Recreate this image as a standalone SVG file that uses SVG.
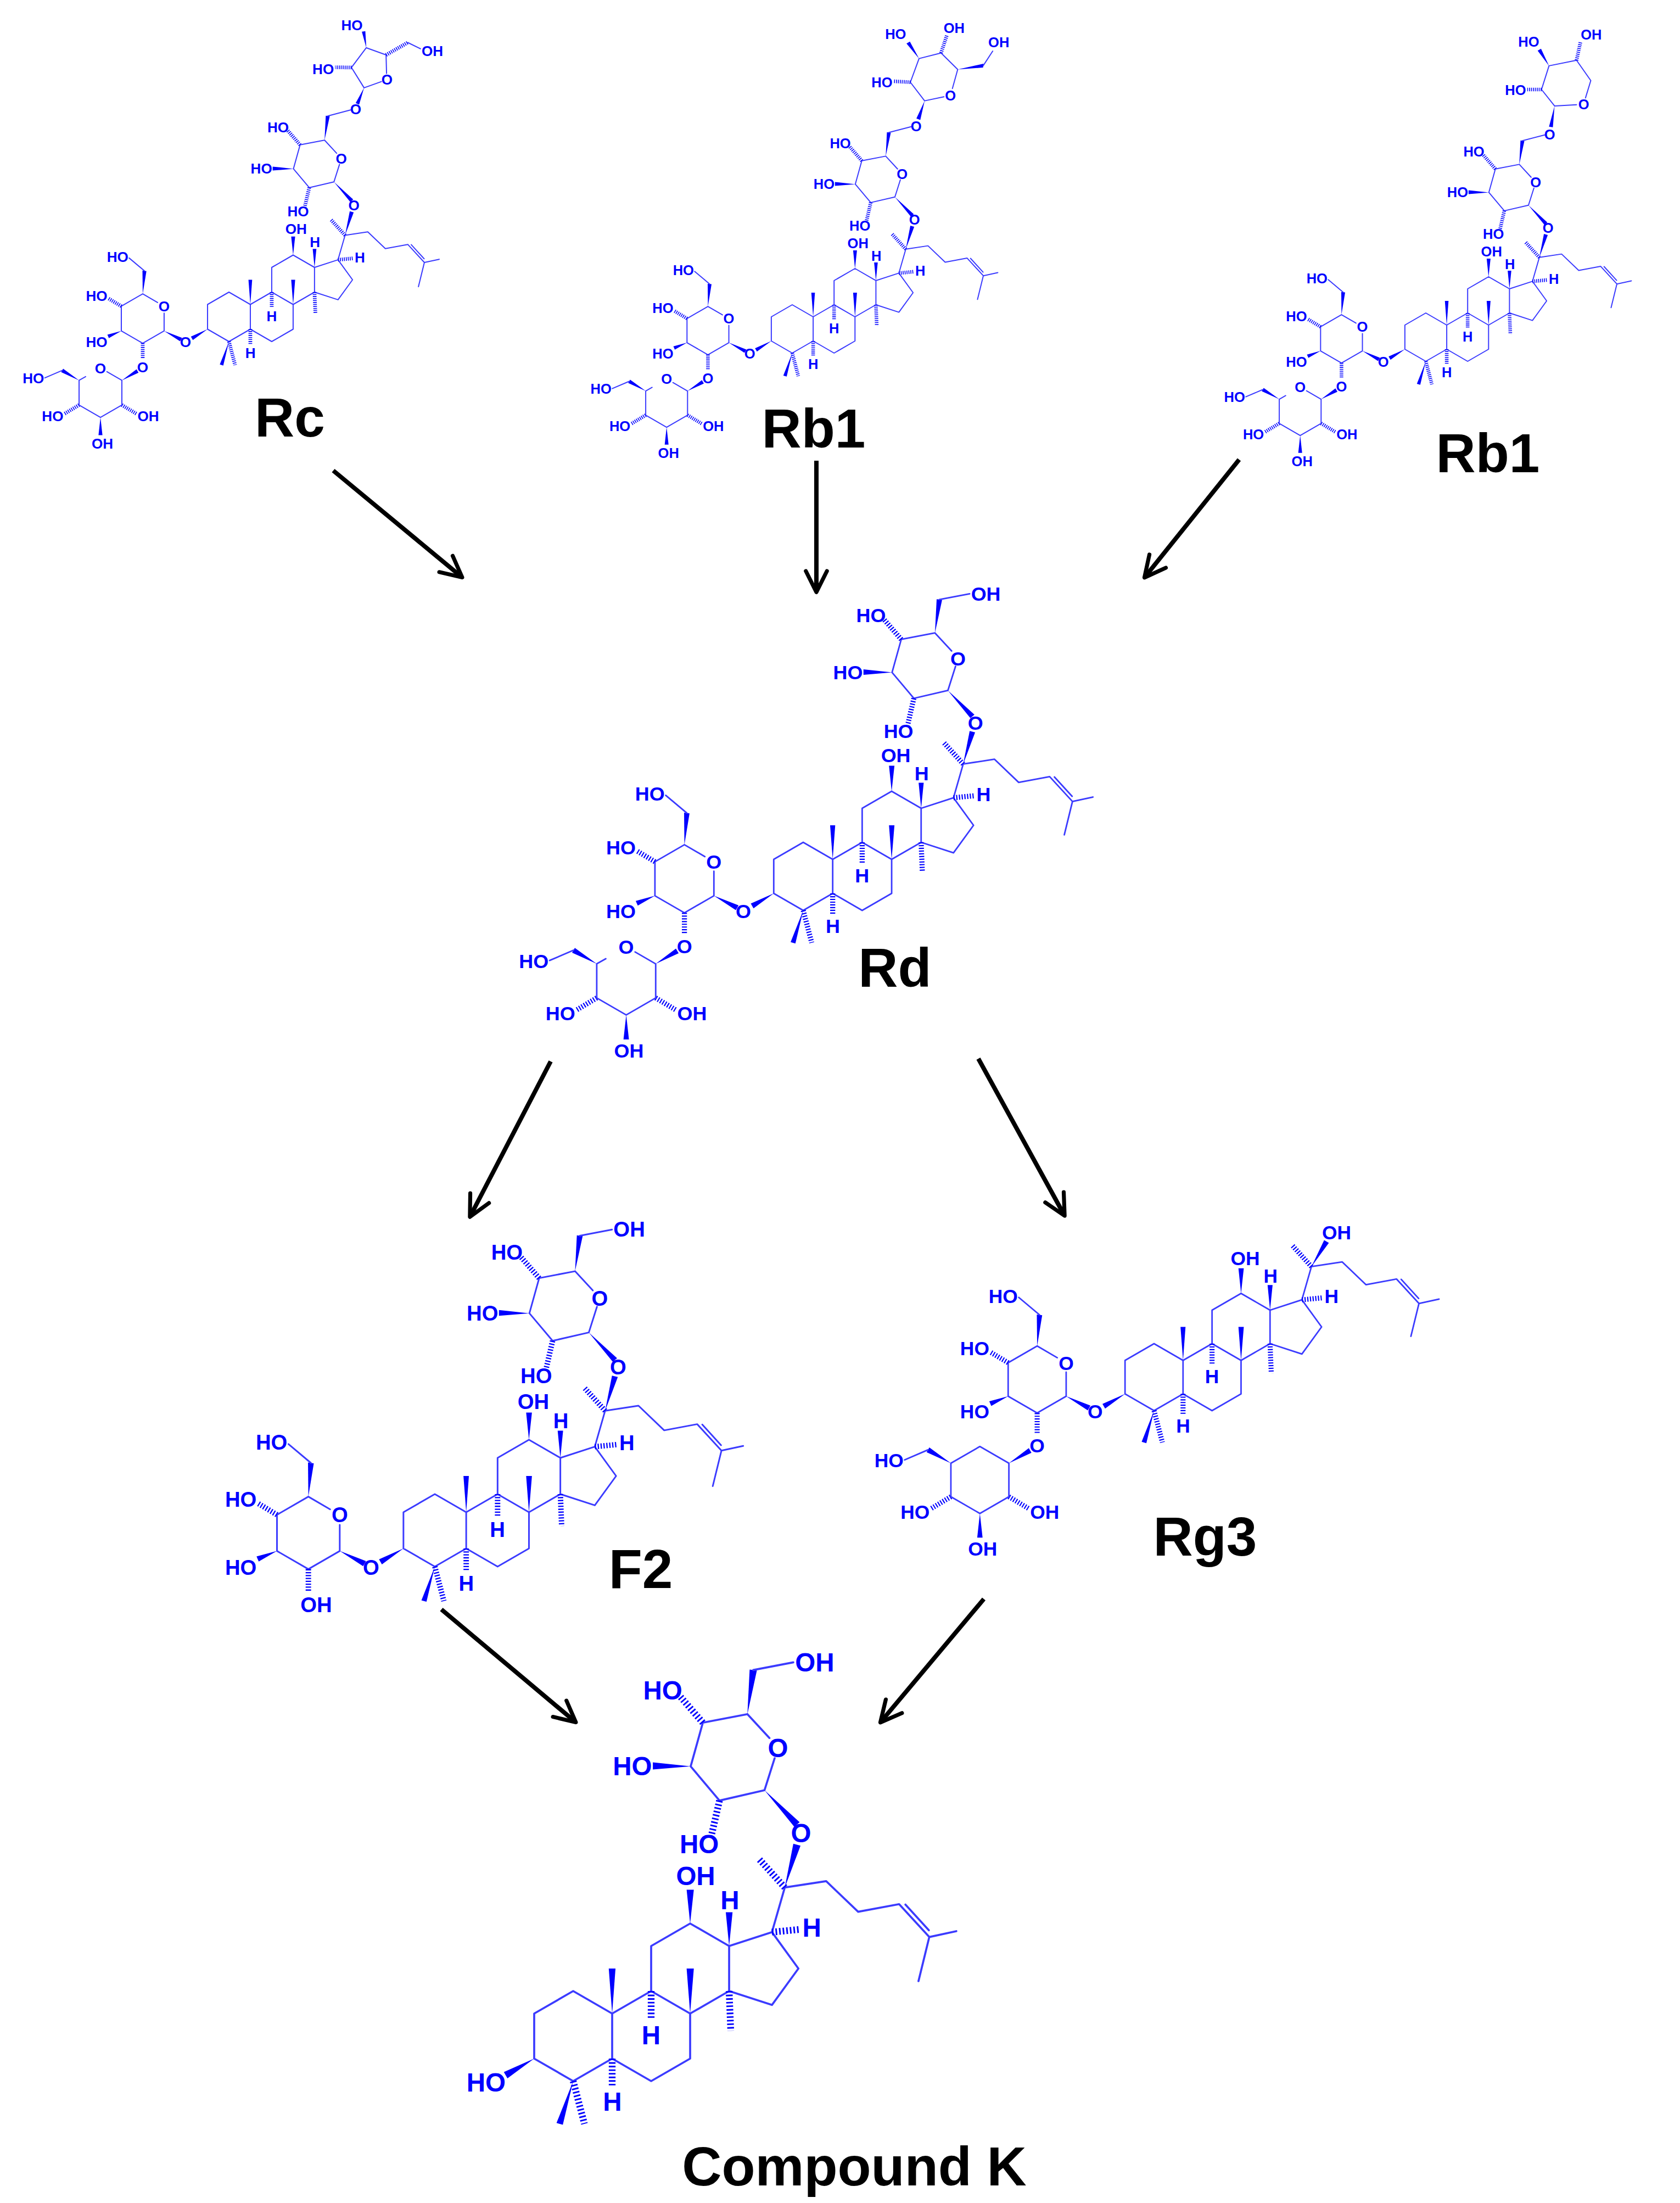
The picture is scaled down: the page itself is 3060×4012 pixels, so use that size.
<svg xmlns="http://www.w3.org/2000/svg" xmlns:xlink="http://www.w3.org/1999/xlink" width="3060" height="4012" viewBox="0 0 3060 4012">
<style>
.b{fill:none;stroke:#3b3bff;stroke-width:4.5;stroke-linecap:round;stroke-linejoin:round}
.w{fill:#0000ff;stroke:none}
.h{fill:none;stroke:#0000ff;stroke-width:15;stroke-dasharray:3.5 4.5}
.t{font-family:'Liberation Sans',Arial,sans-serif;font-weight:bold;font-size:58px;fill:#0000ff;text-anchor:middle}
.e{text-anchor:end}
.s{text-anchor:start}
.n{font-family:'Liberation Sans',Arial,sans-serif;font-weight:bold;font-size:100px;fill:#000;text-anchor:middle}
.a{fill:none;stroke:#000;stroke-width:8;marker-end:url(#ah)}
</style>
<defs>
<marker id="ah" viewBox="0 0 10 10" refX="8.5" refY="5" markerWidth="6" markerHeight="6" orient="auto" markerUnits="strokeWidth">
<path d="M1,1 L9,5 L1,9" fill="none" stroke="#000" stroke-width="1.5" stroke-linecap="round" stroke-linejoin="round"/>
</marker>
<g id="skel">
<path class="b" d="M0,-100 L86.6,-50 L86.6,50 L0,100 L-86.6,50 L-86.6,-50 Z M86.6,-50 L173.2,-100 L259.8,-50 L259.8,50 L173.2,100 L86.6,50 M173.2,-100 L173.2,-200 L259.8,-250 L346.4,-200 L346.4,-100 L259.8,-50 M346.4,-200 L441.5,-230.9 L500.3,-150 L441.5,-69.1 L346.4,-100 M441.5,-230.9 L470,-330 L562,-344 L633,-276 L724,-293 L791,-220 L851,-233 M791,-220 L767,-122 M738,-292 L790,-235"/>
<polygon class="w" points="259.8,-250 252,-325 268,-325"/>
<polygon class="w" points="346.4,-200 339,-275 354,-275"/>
<polygon class="w" points="86.6,-50 79,-150 94,-150"/>
<polygon class="w" points="259.8,-50 252,-150 268,-150"/>
<polygon class="w" points="0,100 -37,193 -23,197"/>
<polygon class="w" points="-86.6,50 -146,94 -154,80"/>
<path class="h" d="M441.5,-230.9 L505,-237 M470,-330 L413,-393 M173.2,-100 L173.2,-38 M346.4,-100 L350,-12 M86.6,50 L86.6,113 M0,100 L25,195"/>
<text class="t" x="272" y="-335">OH</text>
<text class="t" x="348" y="-282">H</text>
<text class="t" x="530" y="-221">H</text>
<text class="t" x="173" y="18">H</text>
<text class="t" x="87" y="166">H</text>
</g>
<g id="c20glc">
<polygon class="w" points="470,-330 489,-427 505,-423"/>
<g transform="translate(357,-620)">
<path class="b" d="M79,-42 L30,-95 L-69,-76 L-96,21 L-32,97 L68,74 L90.5,3"/>
<text class="t" x="98" y="0">O</text>
<polygon class="w" points="30,-95 35,-194 51,-192"/>
<path class="h" d="M-69,-76 L-120,-135 M-32,97 L-50,175"/>
<text class="t" x="-158" y="-127">HO</text>
<polygon class="w" points="-96,21 -180,12 -180,28"/>
<text class="t e" x="-182" y="41">HO</text>
<text class="t" x="-77" y="214">HO</text>
<polygon class="w" points="68,74 146,145 134,155"/>
<text class="t" x="149" y="189">O</text>
</g>
</g>
<g id="c6OH"><g transform="translate(357,-620)"><path class="b" d="M43,-193 L132,-210"/><text class="t s" x="136" y="-190">OH</text></g></g>
<g id="c6O"><g transform="translate(357,-620)"><path class="b" d="M43,-193 L135,-217"/><text class="t" x="156" y="-199">O</text></g></g>
<g id="inner">
<g transform="translate(-349,7)">
<path class="b" d="M60,-65 L0,-100 L-86.6,-50 L-86.6,50 L0,100 L86.6,50 L86.6,-22"/>
<text class="t" x="86.6" y="-29">O</text>
<polygon class="w" points="86.6,50 159,78 151,92"/>
<path class="h" d="M0,100 L0,162 M-86.6,-50 L-140,-82"/>
<polygon class="w" points="-86.6,50 -137,79 -143,65"/>
<text class="t e" x="-143" y="116">HO</text>
<text class="t e" x="-143" y="-72">HO</text>
<polygon class="w" points="0,-100 -1,-194 15,-192"/>
<path class="b" d="M7,-193 L-55,-245"/>
<text class="t e" x="-58" y="-229">HO</text>
</g>
<text class="t" x="-176" y="123">O</text>
</g>
<g id="outerS">
<g transform="translate(-520,307)">
<polygon class="w" points="86.6,-50 154,-81 146,-95"/>
<path class="h" d="M86.6,50 L145,85 M-86.6,50 L-145,85"/>
<text class="t s" x="150" y="116">OH</text>
<polygon class="w" points="0,100 -8,172 8,172"/>
<text class="t" x="8" y="226">OH</text>
<text class="t e" x="-150" y="116">HO</text>
<polygon class="w" points="-86.6,-50 -151,-97 -159,-83"/>
<path class="b" d="M-155,-90 L-225,-60"/>
<text class="t e" x="-228" y="-38">HO</text>
</g>
<text class="t" x="-349" y="225">O</text>
</g>
<g id="outerO">
<use xlink:href="#outerS"/>
<g transform="translate(-520,307)">
<path class="b" d="M-60,-65 L-86.6,-50 L-86.6,50 L0,100 L86.6,50 L86.6,-50 L26,-85"/>
<text class="t" x="0" y="-79">O</text>
</g>
</g>
</defs>

<g id="node-rc" transform="translate(417,577) scale(0.45)">
<use xlink:href="#skel"/><use xlink:href="#c20glc"/><use xlink:href="#c6O"/><use xlink:href="#inner"/><use xlink:href="#outerO"/>
<path class="b" d="M547,-927 L496,-1009 L556,-1089 L636,-1060 L638,-985 M617,-952 L547,-927"/>
<text class="t" x="640" y="-939">O</text>
<polygon class="w" points="547,-927 527,-859 513,-865"/>
<path class="h" d="M636,-1060 L724,-1110 M496,-1009 L430,-1010"/>
<path class="b" d="M724,-1110 L775,-1085"/>
<text class="t s" x="780" y="-1055">OH</text>
<polygon class="w" points="556,-1089 552,-1156 538,-1154"/>
<text class="t" x="498" y="-1160">HO</text>
<text class="t e" x="425" y="-983">HO</text>
</g>

<g id="node-rb1" transform="translate(1443,599) scale(0.44)">
<use xlink:href="#skel"/><use xlink:href="#c20glc"/><use xlink:href="#c6O"/><use xlink:href="#inner"/><use xlink:href="#outerO"/>
<path class="b" d="M548,-944 L489,-1021 L525,-1119 L616,-1142 L685,-1074 L663,-995 M628,-961 L548,-944"/>
<text class="t" x="655" y="-946">O</text>
<polygon class="w" points="548,-944 530,-865 514,-871"/>
<polygon class="w" points="685,-1074 790,-1082 792,-1098"/>
<path class="b" d="M791,-1090 L830,-1150"/>
<text class="t" x="855" y="-1165">OH</text>
<path class="h" d="M616,-1142 L640,-1215 M489,-1021 L420,-1025"/>
<text class="t" x="670" y="-1224">OH</text>
<polygon class="w" points="525,-1119 487,-1189 473,-1181"/>
<text class="t" x="428" y="-1200">HO</text>
<text class="t e" x="415" y="-1000">HO</text>
</g>

<g id="node-rb1-right" transform="translate(2597,614) scale(0.44)">
<use xlink:href="#skel"/><use xlink:href="#c20glc"/><use xlink:href="#c6O"/><use xlink:href="#inner"/><use xlink:href="#outerO"/>
<path class="b" d="M533,-957 L479,-1025 L510,-1123 L624,-1146 L683,-1062 L661,-990 M624,-962 L533,-957"/>
<text class="t" x="654" y="-943">O</text>
<polygon class="w" points="533,-957 526,-869 510,-871"/>
<path class="h" d="M624,-1146 L640,-1220 M479,-1025 L420,-1025"/>
<text class="t" x="685" y="-1232">OH</text>
<polygon class="w" points="510,-1123 477,-1194 463,-1186"/>
<text class="t" x="426" y="-1203">HO</text>
<text class="t e" x="415" y="-1002">HO</text>
</g>

<g id="node-rd" transform="translate(1463,1596) scale(0.62)">
<use xlink:href="#skel"/><use xlink:href="#c20glc"/><use xlink:href="#c6OH"/><use xlink:href="#inner"/><use xlink:href="#outerO"/>
</g>

<g id="node-f2" transform="translate(792,2787) scale(0.66)">
<use xlink:href="#skel"/><use xlink:href="#c20glc"/><use xlink:href="#c6OH"/><use xlink:href="#inner"/>
<text class="t s" x="-371" y="225">OH</text>
</g>

<g id="node-rg3" transform="translate(2102,2508) scale(0.61)">
<use xlink:href="#skel"/><use xlink:href="#inner"/><use xlink:href="#outerS"/>
<g transform="translate(-520,307)"><path class="b" d="M0,-100 L-86.6,-50 L-86.6,50 L0,100 L86.6,50 L86.6,-50 Z"/></g>
<polygon class="w" points="470,-330 522,-401 508,-409"/>
<text class="t" x="545" y="-412">OH</text>
</g>

<g id="node-ck" transform="translate(1044,3708) scale(0.82)">
<use xlink:href="#skel"/><use xlink:href="#c20glc"/><use xlink:href="#c6OH"/>
<text class="t e" x="-150" y="123">HO</text>
</g>

<g id="labels">
<text class="n" x="528" y="795">Rc</text>
<text class="n" x="1482" y="815">Rb1</text>
<text class="n" x="2710" y="860">Rb1</text>
<text class="n" x="1630" y="1797">Rd</text>
<text class="n" x="1167" y="2892">F2</text>
<text class="n" x="2195" y="2833">Rg3</text>
<text class="n" x="1556" y="3980">Compound K</text>
</g>

<g id="connectors">
<path class="a" d="M607,857 L840,1050"/>
<path class="a" d="M1487,839 L1487,1076"/>
<path class="a" d="M2257,837 L2086,1050"/>
<path class="a" d="M1003,1933 L857,2214"/>
<path class="a" d="M1782,1928 L1938,2212"/>
<path class="a" d="M804,2931 L1047,3135"/>
<path class="a" d="M1792,2912 L1605,3135"/>
</g>
</svg>
